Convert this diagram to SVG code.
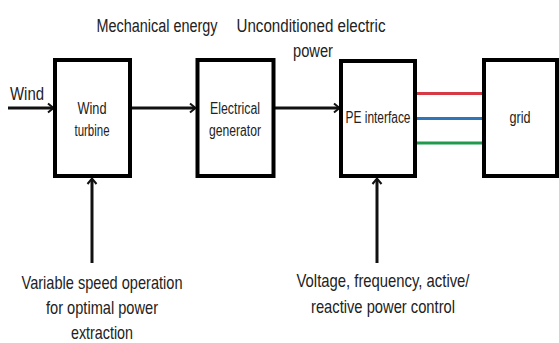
<svg xmlns="http://www.w3.org/2000/svg" width="559" height="343" viewBox="0 0 559 343">
<style>
.box{fill:#fff;stroke:#000;stroke-width:4}
.t{font-family:"Liberation Sans",Arial,sans-serif;fill:#222;text-anchor:middle;font-size:16px}
.c{stroke:#111;stroke-width:3;fill:none}
</style>
<defs>
<marker id="ah" markerUnits="userSpaceOnUse" markerWidth="12" markerHeight="12" refX="9" refY="6" orient="auto">
<path d="M4,1.5 L9.5,6 L4,10.5" fill="none" stroke="#111" stroke-width="2"/>
</marker>
</defs>
<rect width="559" height="343" fill="#fff"/>
<g id="connectors">
<line class="c" x1="8" y1="108" x2="53" y2="108" marker-end="url(#ah)"/>
<line class="c" x1="132" y1="108" x2="195" y2="108" marker-end="url(#ah)"/>
<line class="c" x1="275" y1="108" x2="339" y2="108" marker-end="url(#ah)"/>
<line class="c" x1="92" y1="263" x2="92" y2="179" marker-end="url(#ah)"/>
<line class="c" x1="377" y1="263" x2="377" y2="179" marker-end="url(#ah)"/>
<line x1="417" y1="93.5" x2="482" y2="93.5" stroke="#d63a45" stroke-width="3"/>
<line x1="417" y1="118.5" x2="482" y2="118.5" stroke="#2f76b8" stroke-width="3"/>
<line x1="417" y1="143" x2="482" y2="143" stroke="#229a4c" stroke-width="3"/>
</g>
<g id="wind-turbine">
<rect class="box" x="55" y="60" width="75" height="116"/>
<text class="t" x="92" y="114" textLength="29" lengthAdjust="spacingAndGlyphs">Wind</text>
<text class="t" x="92" y="136" textLength="35" lengthAdjust="spacingAndGlyphs">turbine</text>
</g>
<g id="electrical-generator">
<rect class="box" x="197.5" y="60" width="76" height="116"/>
<text class="t" x="235" y="114" textLength="50" lengthAdjust="spacingAndGlyphs">Electrical</text>
<text class="t" x="235" y="136" textLength="52" lengthAdjust="spacingAndGlyphs">generator</text>
</g>
<g id="pe-interface">
<rect class="box" x="341" y="61" width="74" height="115"/>
<text class="t" x="378" y="123" textLength="65" lengthAdjust="spacingAndGlyphs">PE interface</text>
</g>
<g id="grid">
<rect class="box" x="484" y="60" width="73" height="116"/>
<text class="t" x="520" y="123" textLength="21" lengthAdjust="spacingAndGlyphs">grid</text>
</g>
<g id="labels">
<text class="t" x="27" y="100" textLength="34" lengthAdjust="spacingAndGlyphs" style="font-size:18px">Wind</text>
<text class="t" x="157" y="32" textLength="121" lengthAdjust="spacingAndGlyphs" style="font-size:18px">Mechanical energy</text>
<text class="t" x="311" y="32" textLength="149" lengthAdjust="spacingAndGlyphs" style="font-size:18px">Unconditioned electric</text>
<text class="t" x="313" y="57" textLength="40" lengthAdjust="spacingAndGlyphs" style="font-size:18px">power</text>
<text class="t" x="102" y="289" textLength="161" lengthAdjust="spacingAndGlyphs" style="font-size:19px">Variable speed operation</text>
<text class="t" x="102" y="314" textLength="112" lengthAdjust="spacingAndGlyphs" style="font-size:19px">for optimal power</text>
<text class="t" x="102" y="339" textLength="62" lengthAdjust="spacingAndGlyphs" style="font-size:19px">extraction</text>
<text class="t" x="383" y="287" textLength="173" lengthAdjust="spacingAndGlyphs" style="font-size:19px">Voltage, frequency, active/</text>
<text class="t" x="383" y="313" textLength="144" lengthAdjust="spacingAndGlyphs" style="font-size:19px">reactive power control</text>
</g>
</svg>
